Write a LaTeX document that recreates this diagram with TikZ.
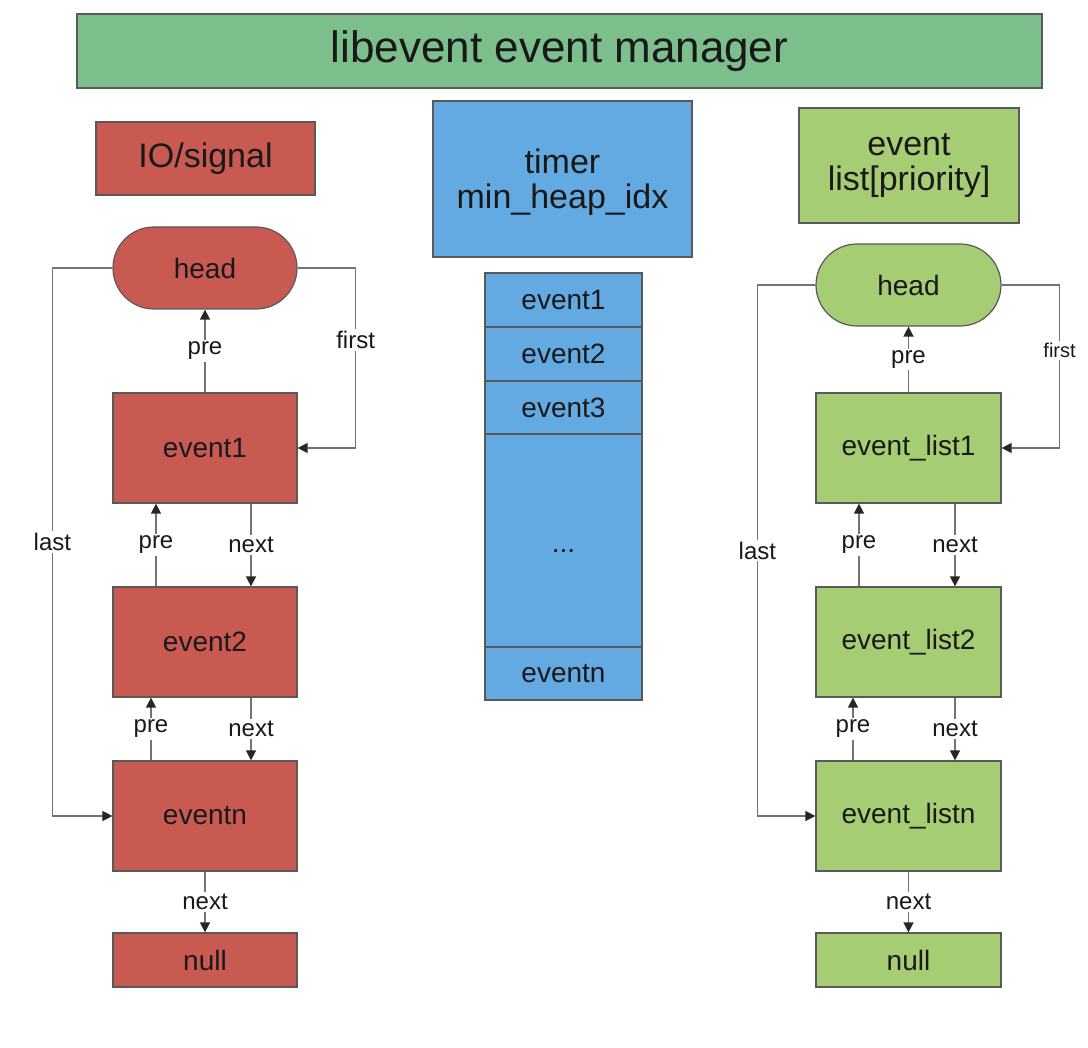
\documentclass[tikz,border=0pt]{standalone}
\usepackage{fontspec}
\setmainfont{Liberation Sans}
\usetikzlibrary{arrows.meta,shapes.misc}

\definecolor{bannergreen}{RGB}{125,190,141}
\definecolor{iored}{RGB}{200,90,82}
\definecolor{timerblue}{RGB}{100,170,226}
\definecolor{listgreen}{RGB}{166,205,116}

\tikzset{
  box/.style={draw=black!65, line width=0.6pt, text=black!90, inner sep=0pt,
    minimum width=92pt, minimum height=55pt, font=\fontsize{14}{16}\selectfont},
  headbox/.style={box, rounded rectangle, minimum height=41pt},
  nullbox/.style={box, minimum height=27pt},
  link/.style={draw=black!55, line width=0.7pt,
    -{Triangle[length=5pt,width=5pt,color=black!85]}},
  lbl/.style={fill=white, inner sep=1pt, text=black!90, font=\fontsize{12}{12}\selectfont},
}

\begin{document}
\begin{tikzpicture}[x=0.5pt, y=-0.5pt]

      \useasboundingbox (0,0) rectangle (1088,1048);

      % manager
      \node[box, fill=bannergreen, minimum width=482.5pt, minimum height=37pt,
        font=\fontsize{22}{24}\selectfont] (manager) at (559.5,51) {libevent event manager};

      % IO/signal list
      \begin{scope}[every node/.style={fill=iored}]
        \node[box, minimum width=109.5pt, minimum height=36.5pt,
          font=\fontsize{17}{18}\selectfont] (io) at (205.5,158.5) {IO/signal};
        \node[headbox] (headL) at (205,268) {head};
        \node[box] (e1)    at (205,448) {event1};
        \node[box] (e2)    at (205,642) {event2};
        \node[box] (en)    at (205,816) {eventn};
        \node[nullbox] (nullL) at (205,960) {null};
      \end{scope}

      % timer heap
      \begin{scope}[every node/.style={fill=timerblue}]
        \node[box, minimum width=129.5pt, minimum height=78pt, align=center, text depth=0pt,
          font=\fontsize{17}{17.5}\selectfont] (timer) at (562.5,179) {timer\\min\_heap\_idx};
        \node[box, minimum width=78.5pt, minimum height=27pt]    (heap1) at (563.5,300)   {event1};
        \node[box, minimum width=78.5pt, minimum height=27pt]    (heap2) at (563.5,354)   {event2};
        \node[box, minimum width=78.5pt, minimum height=26.5pt]  (heap3) at (563.5,407.5) {event3};
        \node[box, minimum width=78.5pt, minimum height=106.5pt] (heapdots) at (563.5,540.5) {\raisebox{-12pt}{...}};
        \node[box, minimum width=78.5pt, minimum height=26.5pt]  (heapn) at (563.5,673.5) {eventn};
      \end{scope}

      % event list
      \begin{scope}[every node/.style={fill=listgreen}]
        \node[box, minimum width=110pt, minimum height=57.5pt, align=center,
          font=\fontsize{17}{17.5}\selectfont] (prio) at (909,165.5) {event\\list[priority]};
        \node[headbox, minimum width=92.5pt] (headR) at (908.5,285) {head};
        \node[box, minimum width=92.5pt] (l1)    at (908.5,448) {event\_list1};
        \node[box, minimum width=92.5pt] (l2)    at (908.5,642) {event\_list2};
        \node[box, minimum width=92.5pt] (ln)    at (908.5,816) {event\_listn};
        \node[nullbox, minimum width=92.5pt] (nullR) at (908.5,960) {null};
      \end{scope}

      % links, left
      \path[link] (e1.north) -- node[lbl] {pre} (headL.south);
      \path[link] (headL.east) -- ++(58,0) |- node[lbl, pos=0.2] {first} (e1.east);
      \path[link] (headL.west) -- ++(-60,0) |- node[lbl, pos=0.25] {last} (en.west);
      \path[link] ([xshift=-24.5pt]e2.north) -- node[lbl] {pre} ([xshift=-24.5pt]e1.south);
      \path[link] ([xshift=23pt]e1.south) -- node[lbl] {next} ([xshift=23pt]e2.north);
      \path[link] ([xshift=-27pt]en.north) -- node[lbl] {pre} ([xshift=-27pt]e2.south);
      \path[link] ([xshift=23pt]e2.south) -- node[lbl] {next} ([xshift=23pt]en.north);
      \path[link] (en.south) -- node[lbl] {next} (nullL.north);

      % links, right
      \path[link] (l1.north) -- node[lbl] {pre} (headR.south);
      \path[link] (headR.east) -- ++(58,0) |- node[lbl, pos=0.2,
        font=\fontsize{10}{10}\selectfont] {first} (l1.east);
      \path[link] (headR.west) -- ++(-58,0) |- node[lbl, pos=0.25] {last} (ln.west);
      \path[link] ([xshift=-24.75pt]l2.north) -- node[lbl] {pre} ([xshift=-24.75pt]l1.south);
      \path[link] ([xshift=23.25pt]l1.south) -- node[lbl] {next} ([xshift=23.25pt]l2.north);
      \path[link] ([xshift=-27.75pt]ln.north) -- node[lbl] {pre} ([xshift=-27.75pt]l2.south);
      \path[link] ([xshift=23.25pt]l2.south) -- node[lbl] {next} ([xshift=23.25pt]ln.north);
      \path[link] (ln.south) -- node[lbl] {next} (nullR.north);

    \end{tikzpicture}
\end{document}
